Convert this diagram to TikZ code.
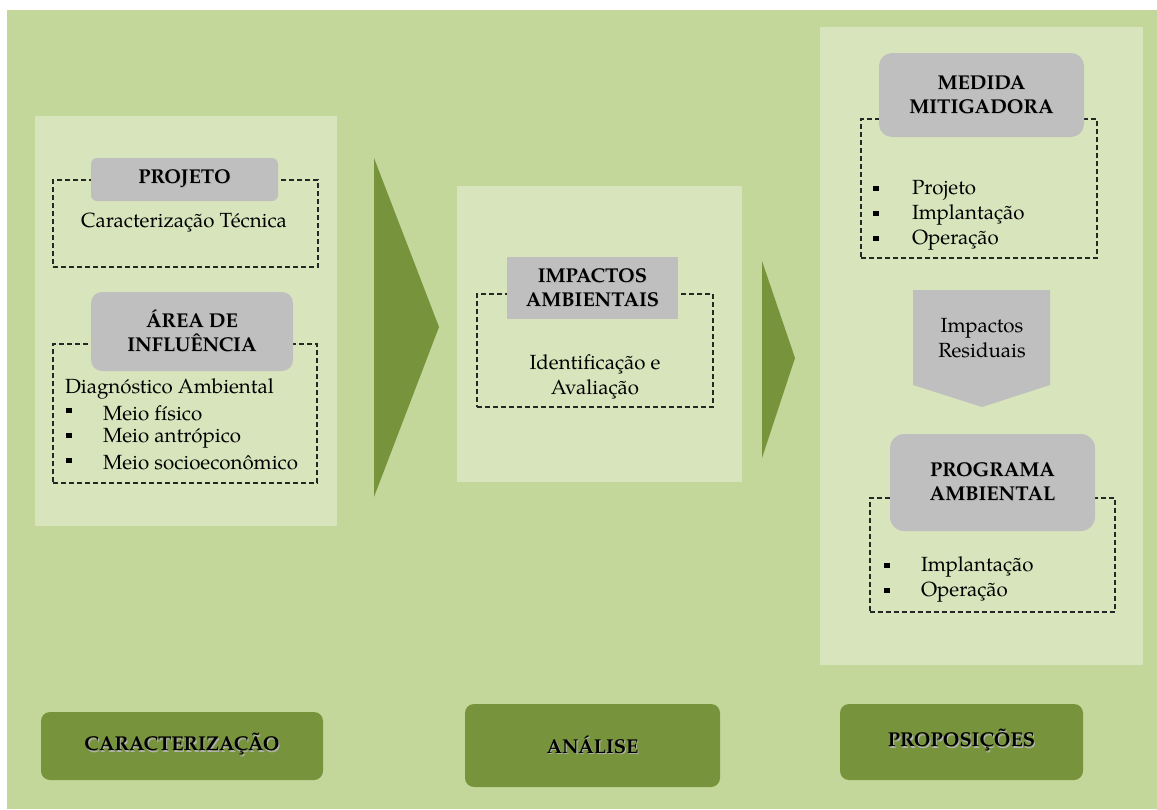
\documentclass[tikz,border=0pt]{standalone}
\usepackage{fontspec}
\setmainfont{texgyrepagella}[Extension=.otf,UprightFont=*-regular,BoldFont=*-bold,ItalicFont=*-italic,BoldItalicFont=*-bolditalic]

\definecolor{bggreen}{HTML}{C4D79B}
\definecolor{panelgreen}{HTML}{D8E4BC}
\definecolor{darkgreen}{HTML}{77933C}
\definecolor{boxgray}{HTML}{BFBFBF}

% bold heading with a soft drop shadow
\newcommand\shtext[1]{\makebox[0pt][l]{\color{black!30}\hspace{1.1pt}\raisebox{-1.1pt}{#1}}#1}

\begin{document}
\begin{tikzpicture}[x=1pt,y=-1pt,
  every node/.style={inner sep=0pt, outer sep=0pt},
  panel/.style={fill=panelgreen},
  dashbox/.style={draw=black!85, line width=1.1pt, dash pattern=on 5pt off 3pt},
  graybox/.style={fill=boxgray, rounded corners=#1},
  graybox/.default=10pt,
  phase/.style={fill=darkgreen, rounded corners=9pt},
  title/.style={font=\bfseries\fontsize{20}{24}\selectfont, align=center, text=black},
  body/.style={font=\fontsize{20.5}{25}\selectfont, align=center, text=black},
  item/.style={font=\fontsize{20.5}{25}\selectfont, anchor=west, text=black},
  bul/.style={fill=black, minimum width=5.5pt, minimum height=5pt}
]
\useasboundingbox (0,0) rectangle (1157,809);
% page background
\fill[bggreen] (7,10) rectangle (1157,809);

% ---------- panels ----------
\node[panel, minimum width=302, minimum height=410] (lp) at (186,321) {};
\node[panel, minimum width=285, minimum height=296] (mp) at (599.5,334) {};
\node[panel, minimum width=323, minimum height=638] (rp) at (981.5,346) {};

% ---------- flow arrows between the phases ----------
\fill[darkgreen] (374,158) -- (439,327) -- (374,497) -- cycle;
\fill[darkgreen] (762,261) -- (795,358) -- (762,458) -- cycle;

% ---------- dashed frames ----------
\node[dashbox, minimum width=265, minimum height=87]  (d1) at (185.5,223.5) {};
\node[dashbox, minimum width=264, minimum height=139] (d2) at (185,413.5) {};
\node[dashbox, minimum width=236, minimum height=113] (d3) at (595,350.5) {};
\node[dashbox, minimum width=236, minimum height=139] (d4) at (979,188.5) {};
\node[dashbox, minimum width=245, minimum height=114] (d5) at (992.5,555) {};

% ---------- gray heading boxes ----------
\node[graybox=6pt, minimum width=187, minimum height=43] (g1) at (184.5,179.5) {};
\node[graybox=11pt, minimum width=202, minimum height=79] (g2) at (192,331.5) {};
\node[graybox=0pt, minimum width=171, minimum height=62] (g3) at (592.5,288) {};
\node[graybox=13pt, minimum width=205, minimum height=84] (g4) at (981.5,95) {};
\node[graybox=14pt, minimum width=205, minimum height=97] (g5) at (992.5,482.5) {};

% residual impacts: downward pentagon arrow
\fill[boxgray] (913,290) -- (1050,290) -- (1050,385) -- (982,407) -- (913,385) -- cycle;

% ---------- headings ----------
\node[title] (t1) at (g1) {\shtext{PROJETO}};
\node[title] (t2) at (g2) {\shtext{ÁREA DE}\\\shtext{INFLUÊNCIA}};
\node[title] (t3) at (g3) {\shtext{IMPACTOS}\\\shtext{AMBIENTAIS}};
\node[title] (t4) at (g4) {\shtext{MEDIDA}\\\shtext{MITIGADORA}};
\node[title] (t5) at (g5) {\shtext{PROGRAMA}\\\shtext{AMBIENTAL}};

% ---------- body texts ----------
\node[body] (c1) at (184,223) {Caracterização Técnica};
\node[item] (c2) at (65,389) {Diagnóstico Ambiental};
\node[bul] (b21) at (69,410) {};
\node[item] (i21) at (103,413) {Meio físico};
\node[bul] (b22) at (69,435) {};
\node[item] (i22) at (103,438) {Meio antrópico};
\node[bul] (b23) at (69,460) {};
\node[item] (i23) at (103,463) {Meio socioeconômico};

\node[body] (c3) at (595,377) {Identificação e\\Avaliação};

\node[bul] (b41) at (876,188) {};
\node[item] (i41) at (912,190) {Projeto};
\node[bul] (b42) at (876,213) {};
\node[item] (i42) at (912,215) {Implantação};
\node[bul] (b43) at (876,238) {};
\node[item] (i43) at (912,240) {Operação};

\node[body] (r1) at (982,338) {Impactos\\Residuais};

\node[bul] (b51) at (887,565) {};
\node[item] (i51) at (921,567) {Implantação};
\node[bul] (b52) at (887,590) {};
\node[item] (i52) at (921,592) {Operação};

% ---------- phase labels ----------
\node[phase, minimum width=282, minimum height=68] (p1) at (182,746) {};
\node[phase, minimum width=255, minimum height=83] (p2) at (592.5,745.5) {};
\node[phase, minimum width=243, minimum height=76] (p3) at (961.5,742) {};
\node[title] (pt1) at (182,745) {\shtext{CARACTERIZAÇÃO}};
\node[title] (pt2) at (592.5,745) {\shtext{ANÁLISE}};
\node[title] (pt3) at (961.5,741) {\shtext{PROPOSIÇÕES}};
\end{tikzpicture}
\end{document}
